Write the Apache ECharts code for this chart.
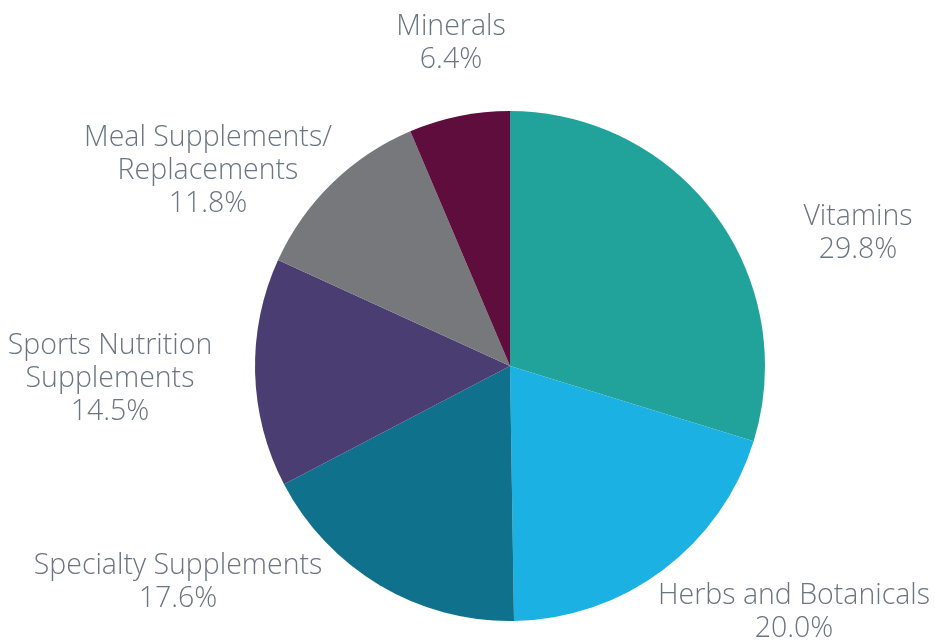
<!DOCTYPE html>
<html>
<head>
<meta charset="utf-8">
<script src="https://cdn.jsdelivr.net/npm/echarts@6/dist/echarts.min.js"></script>
<style>
  html, body { margin: 0; padding: 0; background: #fff; }
  #chart { width: 935px; height: 640px; }
</style>
</head>
<body>
<div id="chart"></div>
<script>
// categories, clockwise from 12 o'clock
const categories = [
  'Vitamins',
  'Herbs and Botanicals',
  'Specialty Supplements',
  'Sports Nutrition\nSupplements',
  'Meal Supplements/\nReplacements',
  'Minerals'
];
// share of sales, %
const shares = [29.8, 20.0, 17.6, 14.5, 11.8, 6.4];
const colors = ['#21a39c', '#1bb1e3', '#0f718b', '#4a3d71', '#77787b', '#5e0d3d'];

// where each label block is centred (layout only)
const labelPos = [
  [858, 233],
  [794, 612],
  [178, 582],
  [110, 379],
  [208, 171],
  [451, 43]
];

const chart = echarts.init(document.getElementById('chart'));

chart.setOption({
  backgroundColor: '#fff',
  animation: false,
  color: colors,
  series: [{
    type: 'pie',
    center: [510, 366],
    radius: 255,
    startAngle: 90,
    clockwise: true,
    silent: true,
    data: categories.map((name, i) => ({ name: name, value: shares[i] })),
    label: {
      show: true,
      position: 'outside',
      overflow: 'none',
      formatter: (p) => p.name + '\n' + p.value.toFixed(1) + '%',
      color: '#6b7480',
      fontFamily: 'Open Sans',
      fontWeight: 300,
      fontSize: 28.5,
      lineHeight: 33
    },
    labelLine: { show: false },
    labelLayout: (params) => ({
      x: labelPos[params.dataIndex][0],
      y: labelPos[params.dataIndex][1],
      align: 'center',
      verticalAlign: 'middle'
    })
  }]
});
</script>
</body>
</html>
